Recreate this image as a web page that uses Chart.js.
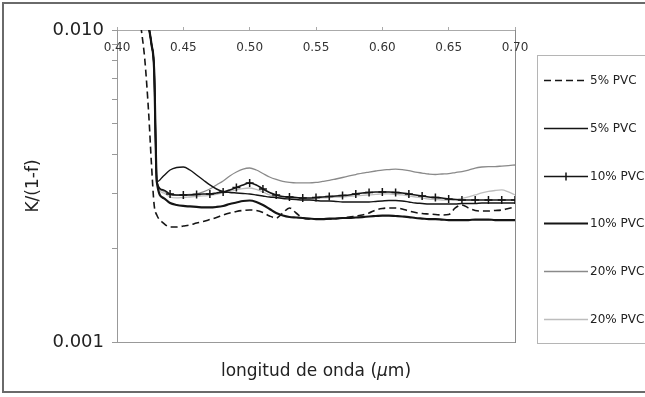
<!DOCTYPE html>
<html>
<head>
<meta charset="utf-8">
<script src="https://cdn.jsdelivr.net/npm/chart.js@4/dist/chart.umd.min.js"></script>
<style>
  html, body { margin: 0; padding: 0; background: #fff; }
  canvas { display: block; }
</style>
</head>
<body>
<canvas id="c" width="645" height="397"></canvas>
<script>
// Wavelength grid (µm)
const wavelengths = [
  0.418, 0.421, 0.424, 0.426, 0.428,
  0.430, 0.435, 0.440, 0.445, 0.450, 0.455, 0.460, 0.465, 0.470, 0.475,
  0.480, 0.485, 0.490, 0.495, 0.500, 0.505, 0.510, 0.515, 0.520, 0.525,
  0.530, 0.535, 0.540, 0.545, 0.550, 0.555, 0.560, 0.565, 0.570, 0.575,
  0.580, 0.585, 0.590, 0.595, 0.600, 0.605, 0.610, 0.615, 0.620, 0.625,
  0.630, 0.635, 0.640, 0.645, 0.650, 0.655, 0.660, 0.665, 0.670, 0.675,
  0.680, 0.685, 0.690, 0.695, 0.700
];

// K/(1-f) for each sample
const pvc5a = [
  0.0103, 0.0080, 0.0053, 0.0037, 0.00275,
  0.002553, 0.002406, 0.002336, 0.002336, 0.002353, 0.002371, 0.002406, 0.002433, 0.002469, 0.002506,
  0.002553, 0.002591, 0.002620, 0.002640, 0.002649, 0.002640, 0.002600, 0.002534, 0.002497, 0.002591,
  0.002689, 0.002591, 0.002497, 0.002478, 0.002478, 0.002478, 0.002478, 0.002487, 0.002497, 0.002515,
  0.002534, 0.002553, 0.002591, 0.002649, 0.002679, 0.002689, 0.002689, 0.002669, 0.002630, 0.002600,
  0.002581, 0.002572, 0.002562, 0.002553, 0.002562, 0.002689, 0.002749, 0.002689, 0.002640, 0.002630,
  0.002630, 0.002640, 0.002649, 0.002679, 0.002709
];
const pvc5b = [
  null, null, 0.0102, 0.0090, 0.00744,
  0.003258, 0.003405, 0.003558, 0.003624, 0.003638, 0.003558, 0.003430, 0.003306, 0.003187, 0.003093,
  0.003037, 0.003015, 0.003004, 0.002993, 0.002982, 0.002960, 0.002938, 0.002916, 0.002905, 0.002884,
  0.002873, 0.002862, 0.002852, 0.002852, 0.002841, 0.002831, 0.002831, 0.002821, 0.002811, 0.002811,
  0.002811, 0.002811, 0.002811, 0.002821, 0.002831, 0.002841, 0.002841, 0.002831, 0.002811, 0.002790,
  0.002780, 0.002769, 0.002769, 0.002769, 0.002769, 0.002769, 0.002780, 0.002780, 0.002780, 0.002790,
  0.002790, 0.002790, 0.002790, 0.002790, 0.002790
];
const pvc10a = [
  null, null, 0.0102, 0.0090, 0.00744,
  0.003258, 0.003071, 0.002982, 0.002960, 0.002960, 0.002960, 0.002971, 0.002982, 0.002982, 0.003004,
  0.003026, 0.003071, 0.003127, 0.003187, 0.003234, 0.003187, 0.003093, 0.003015, 0.002960, 0.002927,
  0.002916, 0.002905, 0.002895, 0.002895, 0.002905, 0.002916, 0.002927, 0.002938, 0.002949, 0.002960,
  0.002982, 0.003004, 0.003015, 0.003026, 0.003026, 0.003026, 0.003015, 0.003004, 0.002982, 0.002960,
  0.002938, 0.002916, 0.002905, 0.002895, 0.002873, 0.002862, 0.002852, 0.002852, 0.002852, 0.002852,
  0.002852, 0.002852, 0.002852, 0.002852, 0.002852
];
const pvc10b = [
  null, null, 0.0102, 0.0090, 0.00744,
  0.003258, 0.002895, 0.002790, 0.002749, 0.002729, 0.002719, 0.002709, 0.002699, 0.002699, 0.002709,
  0.002729, 0.002769, 0.002800, 0.002831, 0.002841, 0.002811, 0.002749, 0.002669, 0.002591, 0.002543,
  0.002515, 0.002506, 0.002497, 0.002487, 0.002478, 0.002478, 0.002487, 0.002487, 0.002497, 0.002497,
  0.002506, 0.002515, 0.002525, 0.002534, 0.002543, 0.002543, 0.002534, 0.002525, 0.002515, 0.002497,
  0.002487, 0.002478, 0.002478, 0.002469, 0.002460, 0.002460, 0.002460, 0.002460, 0.002469, 0.002469,
  0.002469, 0.002460, 0.002460, 0.002460, 0.002460
];
const pvc20a = [
  null, null, 0.0102, 0.0090, 0.00744,
  0.003258, 0.003048, 0.002960, 0.002949, 0.002960, 0.002971, 0.002982, 0.003026, 0.003093, 0.003187,
  0.003282, 0.003405, 0.003506, 0.003584, 0.003611, 0.003558, 0.003467, 0.003380, 0.003318, 0.003270,
  0.003246, 0.003234, 0.003234, 0.003234, 0.003246, 0.003270, 0.003294, 0.003330, 0.003367, 0.003405,
  0.003442, 0.003480, 0.003506, 0.003532, 0.003558, 0.003571, 0.003584, 0.003571, 0.003545, 0.003506,
  0.003480, 0.003455, 0.003442, 0.003455, 0.003467, 0.003493, 0.003519, 0.003558, 0.003611, 0.003638,
  0.003651, 0.003651, 0.003664, 0.003678, 0.003693
];
const pvc20b = [
  null, null, 0.0102, 0.0090, 0.00744,
  0.003258, 0.003004, 0.002916, 0.002895, 0.002905, 0.002916, 0.002927, 0.002938, 0.002949, 0.002971,
  0.003004, 0.003037, 0.003071, 0.003104, 0.003116, 0.003082, 0.003026, 0.002960, 0.002916, 0.002895,
  0.002884, 0.002873, 0.002873, 0.002873, 0.002884, 0.002895, 0.002905, 0.002916, 0.002916, 0.002927,
  0.002938, 0.002949, 0.002960, 0.002971, 0.002982, 0.002982, 0.002971, 0.002960, 0.002938, 0.002916,
  0.002895, 0.002873, 0.002862, 0.002852, 0.002852, 0.002862, 0.002884, 0.002916, 0.002960, 0.003004,
  0.003037, 0.003059, 0.003071, 0.003026, 0.002960
];

const seriesNames = ['5% PVC', '5% PVC', '10% PVC', '10% PVC', '20% PVC', '20% PVC'];
const xTicks = [0.40, 0.45, 0.50, 0.55, 0.60, 0.65, 0.70];
const yTicks = [0.001, 0.002, 0.003, 0.004, 0.005, 0.006, 0.007, 0.008, 0.009, 0.010];
const yLabelled = [0.001, 0.010];
const xTitle = ['longitud de onda (', 'μ', 'm)'];

const FONT = 'DejaVu Sans';

function pairs(values) {
  return wavelengths.map((w, i) => ({ x: w, y: values[i] }));
}

// plus markers every 0.01 µm on the 10% series
const crossRadius = (ctx) => {
  const w = wavelengths[ctx.dataIndex];
  const milli = Math.round(w * 1000);
  return (w >= 0.44 && milli % 10 === 0) ? 4 : 0;
};

const base = { pointRadius: 0, fill: false, cubicInterpolationMode: 'monotone', spanGaps: false };

const datasets = [
  { ...base, label: seriesNames[0], data: pairs(pvc5a),  borderColor: '#151515', borderWidth: 1.6, borderDash: [7, 4] },
  { ...base, label: seriesNames[1], data: pairs(pvc5b),  borderColor: '#151515', borderWidth: 1.4 },
  { ...base, label: seriesNames[2], data: pairs(pvc10a), borderColor: '#151515', borderWidth: 1.6,
    pointStyle: 'cross', pointRadius: crossRadius, pointBorderColor: '#151515', pointBorderWidth: 1.5, pointHoverRadius: 0 },
  { ...base, label: seriesNames[3], data: pairs(pvc10b), borderColor: '#151515', borderWidth: 2.2 },
  { ...base, label: seriesNames[4], data: pairs(pvc20a), borderColor: '#8a8a8a', borderWidth: 1.3 },
  { ...base, label: seriesNames[5], data: pairs(pvc20b), borderColor: '#bdbdbd', borderWidth: 1.3 }
];

// outer frame, x tick labels inside the plot, x title and the boxed legend
const frameAndLegend = {
  id: 'frameAndLegend',
  beforeDraw(chart) {
    const ctx = chart.ctx;
    ctx.save();
    ctx.fillStyle = '#fff';
    ctx.fillRect(0, 0, chart.width, chart.height);
    ctx.restore();
  },
  afterDraw(chart) {
    const ctx = chart.ctx;
    const xs = chart.scales.x;
    const area = chart.chartArea;
    ctx.save();
    ctx.strokeStyle = '#6a6a6a';
    ctx.lineWidth = 2;
    ctx.strokeRect(3, 3, 660, 389);

    // wavelength tick labels, just below the top axis line
    ctx.fillStyle = '#333';
    ctx.font = '12px "' + FONT + '"';
    ctx.textAlign = 'center';
    ctx.textBaseline = 'middle';
    xs.ticks.forEach(t => {
      ctx.fillText(Number(t.value).toFixed(2), xs.getPixelForValue(t.value), area.top + 18);
    });

    // axis title with an italic mu
    const regular = '17px "' + FONT + '"';
    const italic = 'italic 17px "' + FONT + '"';
    ctx.font = regular; const w0 = ctx.measureText(xTitle[0]).width;
    ctx.font = italic;  const w1 = ctx.measureText(xTitle[1]).width;
    ctx.font = regular; const w2 = ctx.measureText(xTitle[2]).width;
    let tx = (area.left + area.right) / 2 - (w0 + w1 + w2) / 2;
    const ty = 372;
    ctx.fillStyle = '#222';
    ctx.textAlign = 'left';
    ctx.font = regular; ctx.fillText(xTitle[0], tx, ty); tx += w0;
    ctx.font = italic;  ctx.fillText(xTitle[1], tx, ty); tx += w1;
    ctx.font = regular; ctx.fillText(xTitle[2], tx, ty);

    // legend
    ctx.strokeStyle = '#b5b5b5';
    ctx.lineWidth = 1;
    ctx.strokeRect(537.5, 55.5, 130, 288);

    chart.data.datasets.forEach((ds, i) => {
      const y = Math.round(80 + i * 47.8) + 0.5;
      ctx.strokeStyle = ds.borderColor;
      ctx.lineWidth = ds.borderWidth;
      ctx.setLineDash(ds.borderDash || []);
      ctx.beginPath();
      ctx.moveTo(544, y);
      ctx.lineTo(588, y);
      ctx.stroke();
      ctx.setLineDash([]);
      if (ds.pointStyle === 'cross') {
        ctx.lineWidth = ds.pointBorderWidth;
        ctx.beginPath();
        ctx.moveTo(566, y - 4);
        ctx.lineTo(566, y + 4);
        ctx.stroke();
      }
      ctx.fillStyle = '#222';
      ctx.font = '12px "' + FONT + '"';
      ctx.textAlign = 'left';
      ctx.textBaseline = 'middle';
      ctx.fillText(ds.label, 590, y);
    });
    ctx.restore();
  }
};

new Chart(document.getElementById('c'), {
  type: 'line',
  data: { datasets },
  plugins: [frameAndLegend],
  options: {
    responsive: false,
    animation: false,
    devicePixelRatio: 1,
    layout: { padding: { left: 0, top: 0, right: 130, bottom: 0 } },
    plugins: { legend: { display: false }, tooltip: { enabled: false } },
    scales: {
      x: {
        type: 'linear', position: 'top', min: 0.40, max: 0.70,
        afterBuildTicks: (s) => { s.ticks = xTicks.map(v => ({ value: v })); },
        ticks: { display: false },
        grid: { drawOnChartArea: false, drawTicks: true, tickLength: 3, color: '#aaa' },
        border: { color: '#aaa', width: 1 },
        afterFit: (s) => { s.height = 30; }
      },
      xb: {
        type: 'linear', position: 'bottom', min: 0.40, max: 0.70,
        ticks: { display: false },
        grid: { display: false, drawTicks: false },
        border: { display: true, color: '#999', width: 1 },
        afterFit: (s) => { s.height = 55; }
      },
      y: {
        type: 'logarithmic', position: 'left', min: 0.001, max: 0.01,
        afterBuildTicks: (s) => { s.ticks = yTicks.map(v => ({ value: v })); },
        ticks: {
          autoSkip: false, padding: 8, color: '#222',
          font: { family: FONT, size: 18 },
          callback: (v) => {
            const hit = yLabelled.find(l => Math.abs(v - l) < 1e-9);
            return hit !== undefined ? hit.toFixed(3) : '';
          }
        },
        grid: { drawOnChartArea: false, drawTicks: true, tickLength: 5, color: '#999' },
        border: { color: '#999', width: 1 },
        title: {
          display: true, text: 'K/(1-f)', color: '#222',
          font: { family: FONT, size: 17 }, padding: { top: 23, bottom: 0 }
        },
        afterFit: (s) => { s.width = 117; }
      },
      yr: {
        type: 'logarithmic', position: 'right', min: 0.001, max: 0.01,
        ticks: { display: false },
        grid: { display: false, drawTicks: false },
        border: { display: true, color: '#8a8a8a', width: 1 },
        afterFit: (s) => { s.width = 0; }
      }
    }
  }
});
</script>
</body>
</html>
